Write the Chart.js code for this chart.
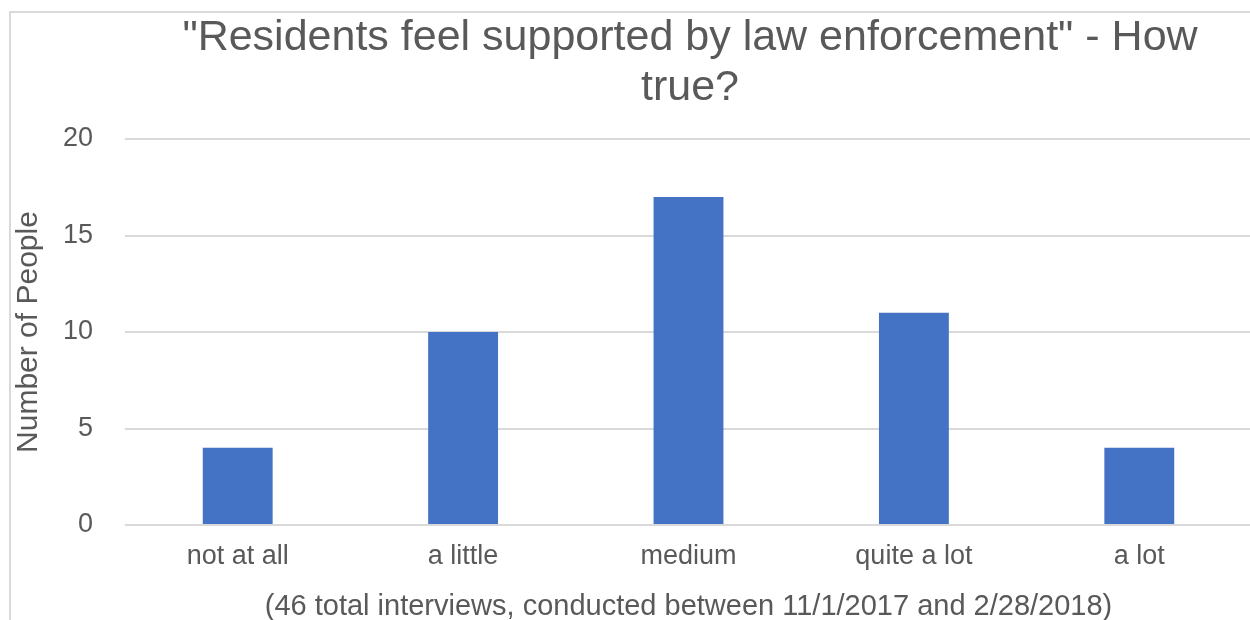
<!DOCTYPE html>
<html>
<head>
<meta charset="utf-8">
<script src="https://cdn.jsdelivr.net/npm/chart.js@4/dist/chart.umd.min.js"></script>
<style>
  html, body { margin: 0; padding: 0; background: #fff; overflow: hidden; }
  #frame {
    position: absolute; left: 9px; top: 11px;
    width: 1400px; height: 660px;
    border: 2px solid #d9d9d9;
    background: #fff;
  }
  canvas { display: block; }
</style>
</head>
<body>
<div id="frame"><canvas id="chart" width="1362" height="640"></canvas></div>
<script>
// Survey answers
const categories = ['not at all', 'a little', 'medium', 'quite a lot', 'a lot'];
const people = [4, 10, 17, 11, 4];
const yTicks = [0, 5, 10, 15, 20];

const FONT = '"Liberation Sans", Arial, Helvetica, sans-serif';
const TEXT = '#595959';

const ctx = document.getElementById('chart').getContext('2d');
const chart = new Chart(ctx, {
  type: 'bar',
  data: {
    labels: categories,
    datasets: [{
      label: 'Number of People',
      data: people,
      backgroundColor: '#4472c4',
      borderWidth: 0,
      categoryPercentage: 1,
      barPercentage: 0.31
    }]
  },
  options: {
    responsive: false,
    animation: false,
    layout: { padding: { left: 0, right: 4, top: 0, bottom: 0 } },
    plugins: {
      legend: { display: false },
      tooltip: { enabled: false },
      title: {
        display: true,
        text: ['"Residents feel supported by law enforcement" - How', 'true?'],
        color: TEXT,
        font: { family: FONT, size: 43, weight: 'normal', lineHeight: 1.163 },
        padding: { top: 0, bottom: 26 }
      }
    },
    scales: {
      x: {
        grid: { display: false },
        border: { display: false },
        afterFit: axis => { axis.height = 128; },
        ticks: { color: TEXT, font: { family: FONT, size: 27 }, padding: 7 },
        title: {
          display: true,
          text: '(46 total interviews, conducted between 11/1/2017 and 2/28/2018)',
          color: TEXT,
          font: { family: FONT, size: 29 },
          padding: { top: 0, bottom: 29 }
        }
      },
      y: {
        min: 0,
        max: 20,
        afterBuildTicks: axis => { axis.ticks = yTicks.map(v => ({ value: v })); },
        afterFit: axis => { axis.width = 114; },
        grid: { color: '#d9d9d9', lineWidth: 2, drawTicks: false },
        border: { display: false },
        ticks: { color: TEXT, font: { family: FONT, size: 27 }, padding: 32 },
        title: {
          display: true,
          text: 'Number of People',
          color: TEXT,
          font: { family: FONT, size: 30 },
          padding: { top: 0, bottom: 0 }
        }
      },
      // empty right-hand strip so the plot stops where the frame's gridlines end
      spacer: {
        type: 'linear',
        position: 'right',
        display: true,
        grid: { display: false },
        border: { display: false },
        ticks: { display: false },
        afterFit: axis => { axis.width = 117; }
      }
    }
  }
});
</script>
</body>
</html>
